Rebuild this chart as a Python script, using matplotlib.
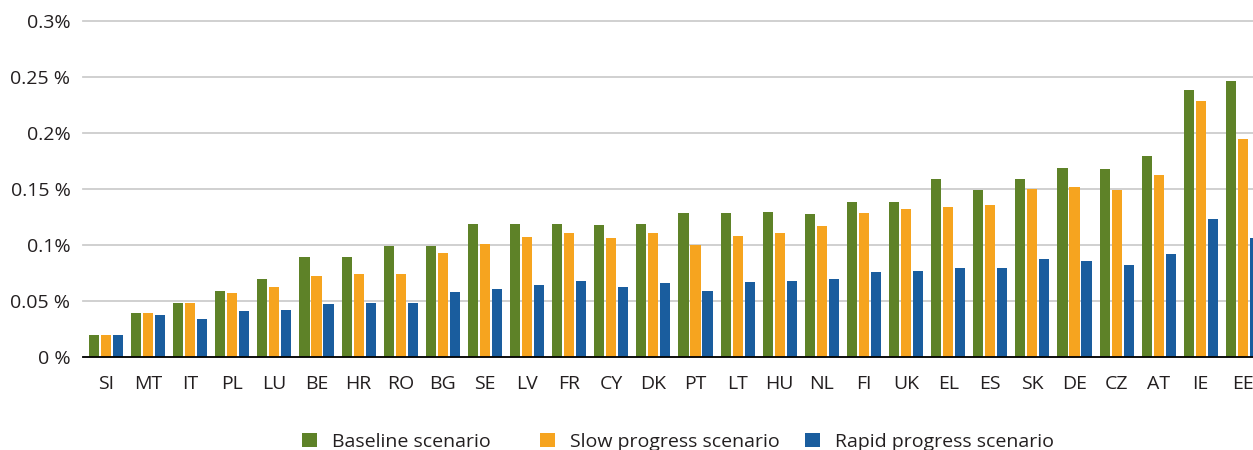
import numpy as np
import matplotlib.pyplot as plt

#%% Data
countries = ['SI', 'MT', 'IT', 'PL', 'LU', 'BE', 'HR', 'RO', 'BG', 'SE', 'LV', 'FR', 'CY', 'DK',
             'PT', 'LT', 'HU', 'NL', 'FI', 'UK', 'EL', 'ES', 'SK', 'DE', 'CZ', 'AT', 'IE', 'EE']
baseline = [0.020, 0.039, 0.048, 0.059, 0.070, 0.089, 0.089, 0.099, 0.099, 0.119, 0.119, 0.119, 0.118, 0.119,
            0.129, 0.129, 0.130, 0.128, 0.139, 0.139, 0.159, 0.149, 0.159, 0.169, 0.168, 0.180, 0.239, 0.247]
slow = [0.020, 0.039, 0.048, 0.057, 0.063, 0.072, 0.074, 0.074, 0.093, 0.101, 0.107, 0.111, 0.106, 0.111,
        0.100, 0.108, 0.111, 0.117, 0.129, 0.132, 0.134, 0.136, 0.150, 0.152, 0.149, 0.163, 0.229, 0.195]
rapid = [0.020, 0.038, 0.034, 0.041, 0.042, 0.047, 0.048, 0.048, 0.058, 0.061, 0.064, 0.068, 0.063, 0.066,
         0.059, 0.067, 0.068, 0.070, 0.076, 0.077, 0.080, 0.080, 0.088, 0.086, 0.082, 0.092, 0.123, 0.106]
series_labels = ['Baseline scenario', 'Slow progress scenario', 'Rapid progress scenario']
ytick_vals = [0, 0.05, 0.1, 0.15, 0.2, 0.25, 0.3]
ytick_labels = ['0 %', '0.05 %', '0.1%', '0.15 %', '0.2%', '0.25 %', '0.3%']

#%% Style
plt.rcParams['font.family'] = ['Open Sans', 'DejaVu Sans']
cores = ['#5e8228', '#f6a41f', '#1a5d9e']
fs = 14

W, H = 1253, 450
fig = plt.figure(figsize=(W/100, H/100), dpi=100)
y0, y_top = 357, 21.5
ax = fig.add_axes([83/W, 1 - y0/H, (W-83)/W, (y0 - y_top)/H])

x = np.arange(len(countries))
dx = 0.285
w = 0.24
bars = []
for k, (vals, c) in enumerate(zip([baseline, slow, rapid], cores)):
    bars.append(ax.bar(x + (k-1)*dx, vals, width=w, color=c, zorder=3))

ax.set_xlim(-0.546, 27.24)
ax.set_ylim(0, 0.3)
ax.set_yticks(ytick_vals)
ax.set_yticklabels(ytick_labels)
ax.set_xticks(x)
ax.set_xticklabels(countries)
ax.tick_params(axis='both', length=0, labelsize=fs, labelcolor='#231f20')
ax.tick_params(axis='x', pad=13)
ax.tick_params(axis='y', pad=9)
ax.yaxis.grid(True, color='#cdcdcd', lw=1.3, zorder=0)
for g in ax.yaxis.get_gridlines():
    g.set_clip_on(False)
for s in ['left', 'right', 'top']:
    ax.spines[s].set_visible(False)
ax.spines['bottom'].set_color('black')
ax.spines['bottom'].set_linewidth(1.3)
ax.spines['bottom'].set_zorder(4)

#%% Legenda (tres entradas separadas)
for b, lab, xp in zip(bars, series_labels, [302, 540, 805]):
    fig.legend(handles=[b], labels=[lab], loc='center left', bbox_to_anchor=(xp/W, 1 - 442/H),
               frameon=False, borderpad=0, borderaxespad=0, handlelength=0.75, handleheight=0.75,
               handletextpad=0.8, fontsize=fs, labelcolor='#231f20')

plt.savefig('out.png', dpi=100)
